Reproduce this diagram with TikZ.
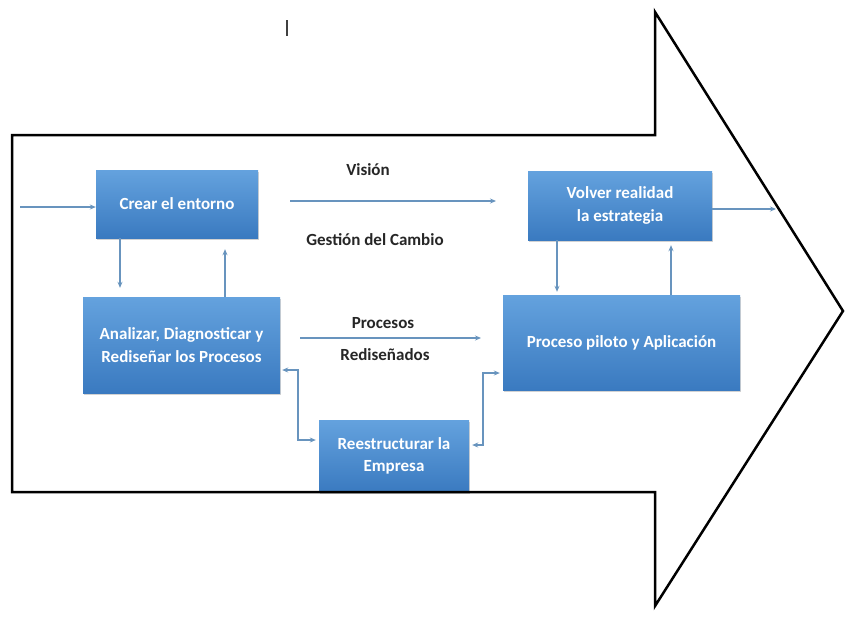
\documentclass[tikz,border=0pt]{standalone}
\usepackage{fontspec}
\setmainfont{Carlito}
\usetikzlibrary{shadows,arrows.meta}
\definecolor{boxtop}{RGB}{100,162,222}
\definecolor{boxbot}{RGB}{58,122,192}
\definecolor{linkc}{RGB}{104,148,190}
\definecolor{txtc}{RGB}{38,38,38}
\tikzset{
  blk/.style={draw=none, top color=boxtop, bottom color=boxbot,
    text=white, font=\bfseries\fontsize{17}{22.5}\selectfont, align=center,
    inner sep=0pt, drop shadow={opacity=0.35, shadow xshift=1pt, shadow yshift=-2pt}},
  lnk/.style={draw=linkc, line width=1.1pt, -{Stealth[length=6pt,width=5pt]}},
  dlnk/.style={draw=linkc, line width=1.1pt, {Stealth[length=6pt,width=5pt]}-{Stealth[length=6pt,width=5pt]}},
  lbl/.style={text=txtc, font=\bfseries\fontsize{17}{20}\selectfont},
  outline/.style={draw=black, line width=2.5pt, line join=miter}
}
\begin{document}
\begin{tikzpicture}[x=1pt,y=-1pt]
\useasboundingbox (0,0) rectangle (845,619);
\fill[white] (0,0) rectangle (845,619);

% stray mark near the top
\draw[black!75, line width=1.3pt] (287,20) -- (287,36);

% process boxes
\node[blk, minimum width=162, minimum height=68] (crear) at (177,204) {Crear el entorno};
\node[blk, minimum width=197, minimum height=96] (analizar) at (181.5,345) {Analizar, Diagnosticar y\\Rediseñar los Procesos};
\node[blk, minimum width=184, minimum height=69] (volver) at (620,205.5) {Volver realidad\\la estrategia};
\node[blk, minimum width=237, minimum height=95] (proceso) at (621.5,342.5) {Proceso piloto y Aplicación};
\node[blk, minimum width=150, minimum height=72] (reestr) at (394,456) {Reestructurar la\\Empresa};

% big outline arrow
\draw[outline] (12,135) -- (655,135) -- (655,12) -- (843,311) -- (655,606) -- (655,492) -- (12,492) -- cycle;

% labels
\node[lbl] (vision) at (368,170) {Visión};
\node[lbl] (gestion) at (375,240) {Gestión del Cambio};
\node[lbl] (procesos) at (383,323) {Procesos};
\node[lbl] (redis) at (385,355) {Rediseñados};

% helper coordinates
\coordinate (in) at (20,207);
\coordinate (out) at (776,209);
\coordinate (c1) at (120,0);
\coordinate (c2) at (225,0);
\coordinate (c3) at (557,0);
\coordinate (c4) at (671,0);
\coordinate (vA) at (290,201);
\coordinate (vB) at (496,201);
\coordinate (pA) at (300,338);
\coordinate (pB) at (481,338);
\coordinate (e1) at (298,370);
\coordinate (e2) at (298,440);
\coordinate (e3) at (483,373);
\coordinate (e4) at (483,445);

% connectors
\draw[lnk] (in) -- (in -| crear.west);
\draw[lnk, shorten >=9pt] (crear.south -| c1) -- (analizar.north -| c1);
\draw[lnk, shorten >=11pt] (analizar.north -| c2) -- (crear.south -| c2);
\draw[lnk] (vA) -- (vB);
\draw[lnk] (volver.east |- out) -- (out);
\draw[lnk, shorten >=3pt] (volver.south -| c3) -- (proceso.north -| c3);
\draw[lnk, shorten >=5pt] (proceso.north -| c4) -- (volver.south -| c4);
\draw[lnk] (pA) -- (pB);
\draw[dlnk, shorten <=2pt, shorten >=3pt] (analizar.east |- e1) -- (e1) -- (e2) -- (reestr.west |- e2);
\draw[dlnk, shorten <=3pt, shorten >=3pt] (reestr.east |- e4) -- (e4) -- (e3) -- (proceso.west |- e3);
\end{tikzpicture}
\end{document}
